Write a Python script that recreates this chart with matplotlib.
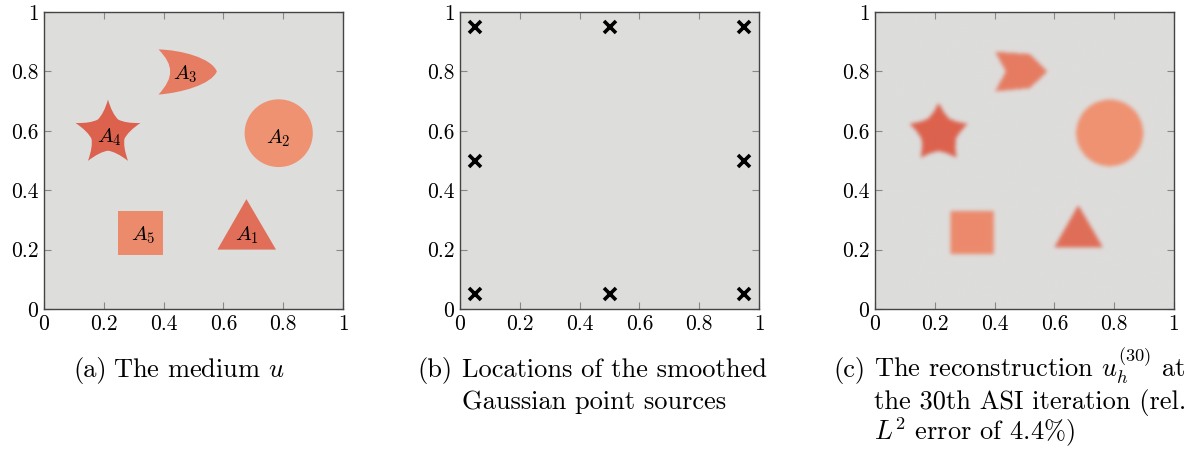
import numpy as np
import matplotlib
matplotlib.use("Agg")
import matplotlib.pyplot as plt
from matplotlib.path import Path
from matplotlib.patches import PathPatch

plt.rcParams['font.family'] = 'serif'
plt.rcParams['font.serif'] = ['cmr10']
plt.rcParams['mathtext.fontset'] = 'cm'
plt.rcParams['axes.formatter.use_mathtext'] = True

# ---------------- data ----------------
tick_values = [0, 0.2, 0.4, 0.6, 0.8, 1]
tick_labels = ["0", "0.2", "0.4", "0.6", "0.8", "1"]

bg_color = "#dddddc"

# shapes of the medium u (panel a)
triangle_xy = [[0.580, 0.200], [0.776, 0.200], [0.677, 0.370]]
circle_center = [0.785, 0.592]
circle_radius = 0.114
square_xy = [0.249, 0.181]
square_size = 0.149
star_center = [0.214, 0.591]
star_r_out = 0.114
star_r_in = 0.058
moon_vertices = [[0.383, 0.874], [0.46, 0.872], [0.56, 0.845], [0.578, 0.800],
                 [0.56, 0.756], [0.46, 0.728], [0.383, 0.722],
                 [0.435, 0.78], [0.435, 0.82], [0.383, 0.874]]

# reconstructed shapes (panel c)
triangle_xy_c = [[0.600, 0.208], [0.762, 0.208], [0.680, 0.350]]
circle_center_c = [0.785, 0.593]
circle_radius_c = 0.112
square_xy_c = [0.252, 0.184]
square_size_c = 0.145
star_center_c = [0.213, 0.592]
star_r_out_c = 0.102
star_r_in_c = 0.060
moon_vertices_c = [[0.402, 0.866], [0.47, 0.872], [0.565, 0.845], [0.577, 0.800],
                   [0.565, 0.757], [0.47, 0.730], [0.402, 0.733],
                   [0.438, 0.78], [0.438, 0.82], [0.402, 0.866]]

shape_names = ["A_1", "A_2", "A_3", "A_4", "A_5"]
shape_colors = ["#e06e58", "#ef9272", "#e67c62", "#dc624e", "#ec8a6c"]
label_pos = [[0.678, 0.25], [0.782, 0.574], [0.472, 0.79], [0.218, 0.577], [0.332, 0.25]]

# source locations
src_x = [0.05, 0.5, 0.95, 0.05, 0.95, 0.05, 0.5, 0.95]
src_y = [0.05, 0.05, 0.05, 0.5, 0.5, 0.95, 0.95, 0.95]

captions = [
    ["(a)", ["The medium $u$"]],
    ["(b)", ["Locations of the smoothed", "Gaussian point sources"]],
    ["(c)", [r"The reconstruction $u_h^{(30)}$ at", "the 30th ASI iteration (rel.",
             r"$L^2$ error of 4.4%)"]],
]

# ---------------- geometry ----------------
def star_path(center, r_out, r_in, pull=0.82):
    cx, cy = center
    verts, codes = [], []
    for i in range(5):
        a_tip = np.pi / 2 + i * 2 * np.pi / 5
        a_in = a_tip + np.pi / 5
        a_next = a_tip + 2 * np.pi / 5
        tip = np.array([cx + r_out * np.cos(a_tip), cy + r_out * np.sin(a_tip)])
        inn = np.array([cx + r_in * np.cos(a_in), cy + r_in * np.sin(a_in)])
        nxt = np.array([cx + r_out * np.cos(a_next), cy + r_out * np.sin(a_next)])
        c0 = np.array([cx, cy]) + pull * ((tip + inn) / 2 - np.array([cx, cy]))
        c1 = np.array([cx, cy]) + pull * ((inn + nxt) / 2 - np.array([cx, cy]))
        if i == 0:
            verts.append(tip); codes.append(Path.MOVETO)
        verts += [c0, inn, c1, nxt]
        codes += [Path.CURVE3, Path.CURVE3, Path.CURVE3, Path.CURVE3]
    return Path(verts, codes)

def circle_path(center, radius):
    th = np.linspace(0, 2 * np.pi, 361)
    xy = np.column_stack([center[0] + radius * np.cos(th), center[1] + radius * np.sin(th)])
    return Path(xy, closed=True)

def square_path(xy0, s):
    x0, y0 = xy0
    return Path([[x0, y0], [x0 + s, y0], [x0 + s, y0 + s], [x0, y0 + s], [x0, y0]], closed=True)

def triangle_path(tri):
    return Path(list(tri) + [tri[0]], closed=True)

def moon_path(verts):
    codes = [Path.MOVETO] + [Path.CURVE4] * 9
    return Path(verts, codes)

paths_a = [triangle_path(triangle_xy), circle_path(circle_center, circle_radius),
           moon_path(moon_vertices), star_path(star_center, star_r_out, star_r_in),
           square_path(square_xy, square_size)]
paths_c = [triangle_path(triangle_xy_c), circle_path(circle_center_c, circle_radius_c),
           moon_path(moon_vertices_c), star_path(star_center_c, star_r_out_c, star_r_in_c, 0.9),
           square_path(square_xy_c, square_size_c)]

# ---------------- figure ----------------
fig = plt.figure(figsize=(11.95, 4.5), dpi=100)
ax_w, ax_h = 299 / 1195, 297 / 450
ax_bottom = (450 - 309) / 450
lefts = [44 / 1195, 460 / 1195, 875 / 1195]
axes = [fig.add_axes([l, ax_bottom, ax_w, ax_h]) for l in lefts]

for ax in axes:
    ax.set_xlim(0, 1)
    ax.set_ylim(0, 1)
    ax.set_facecolor(bg_color)
    ax.set_xticks(tick_values)
    ax.set_yticks(tick_values)
    ax.set_xticklabels(tick_labels)
    ax.set_yticklabels(tick_labels)
    ax.tick_params(direction='in', length=5, width=0.8, color='#888888',
                   top=True, right=True, labelsize=15.5, pad=4)
    for sp in ax.spines.values():
        sp.set_color('#444444')
        sp.set_linewidth(1.0)

# (a) the medium
ax = axes[0]
for p, c in zip(paths_a, shape_colors):
    ax.add_patch(PathPatch(p, facecolor=c, edgecolor='none', zorder=2))
for name, (lx, ly) in zip(shape_names, label_pos):
    ax.text(lx, ly, "$%s$" % name, ha='center', va='center', fontsize=15, zorder=3)

# (b) sources
axes[1].plot(src_x, src_y, linestyle='none', marker='x', markersize=8,
             markeredgewidth=2.6, color='black', zorder=3)

# (c) smoothed reconstruction
n = 400
g = (np.arange(n) + 0.5) / n
X, Y = np.meshgrid(g, g)
pts = np.column_stack([X.ravel(), Y.ravel()])
bg_rgb = np.array(matplotlib.colors.to_rgb(bg_color))
img = np.tile(bg_rgb, (n, n, 1))
for p, c in zip(paths_c, shape_colors):
    m = p.contains_points(pts).reshape(n, n)
    img[m] = matplotlib.colors.to_rgb(c)

sigma = 0.0065 * n
k = np.arange(-int(4 * sigma), int(4 * sigma) + 1)
ker = np.exp(-0.5 * (k / sigma) ** 2)
ker /= ker.sum()
pad = len(k) // 2
blur = np.empty_like(img)
for ch in range(3):
    a = np.pad(img[:, :, ch], pad, mode='edge')
    a = np.apply_along_axis(lambda v: np.convolve(v, ker, mode='valid'), 0, a)
    a = np.apply_along_axis(lambda v: np.convolve(v, ker, mode='valid'), 1, a)
    blur[:, :, ch] = a
axes[2].imshow(np.clip(blur, 0, 1), origin='lower', extent=[0, 1, 0, 1],
               interpolation='bilinear', zorder=1)
axes[2].set_aspect('auto')

# captions
label_x = [73, 417, 833]
text_x = [113, 462, 874]
baselines = [377, 409, 440]
fs = 19
for (lab, lines), lx, tx in zip(captions, label_x, text_x):
    fig.text(lx / 1195, 1 - baselines[0] / 450, lab, fontsize=fs, va='baseline', ha='left')
    for i, line in enumerate(lines):
        fig.text(tx / 1195, 1 - baselines[i] / 450, line, fontsize=fs,
                 va='baseline', ha='left')

fig.savefig("out.png", dpi=100)
